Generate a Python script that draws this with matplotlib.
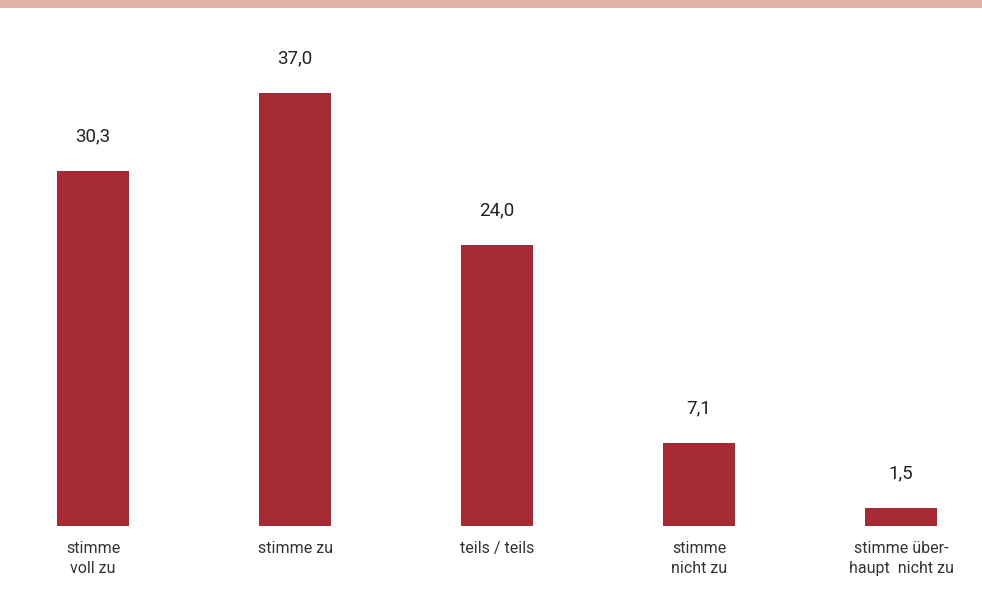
import matplotlib
matplotlib.use("Agg")
import matplotlib.pyplot as plt
from matplotlib.patches import Rectangle

# data
categories = ["stimme\nvoll zu", "stimme zu", "teils / teils", "stimme\nnicht zu", "stimme über-\nhaupt  nicht zu"]
values = [30.3, 37.0, 24.0, 7.1, 1.5]
value_labels = ["30,3", "37,0", "24,0", "7,1", "1,5"]

bar_color = "#a62a33"
band_color = "#dfb3a6"

fig = plt.figure(figsize=(9.82, 5.95), dpi=100)

# pink band at the top
fig.patches.append(Rectangle((0, 587 / 595), 1, 8 / 595, transform=fig.transFigure,
                             facecolor=band_color, edgecolor="none"))

ax = fig.add_axes([0, 69 / 595, 1, 517 / 595])
x = list(range(len(categories)))
ax.bar(x, values, width=0.357, color=bar_color)

for xi, v, lab in zip(x, values, value_labels):
    ax.annotate(lab, (xi, v), xytext=(0, 25), textcoords="offset points",
                ha="center", va="center", fontsize=13.5, color="#222222",
                family=["Roboto", "DejaVu Sans"])

spacing = 202.0
ax.set_xlim(-93 / spacing, (982 - 93) / spacing)
ax.set_ylim(0, 517 / 11.7)
ax.set_xticks(x)
ax.set_xticklabels(categories, fontsize=11.5, color="#333333", family=["Roboto", "DejaVu Sans"],
                   linespacing=1.4)
ax.tick_params(axis="x", length=0, pad=11)
ax.set_yticks([])
for s in ax.spines.values():
    s.set_visible(False)

fig.savefig("out.png", dpi=100)
